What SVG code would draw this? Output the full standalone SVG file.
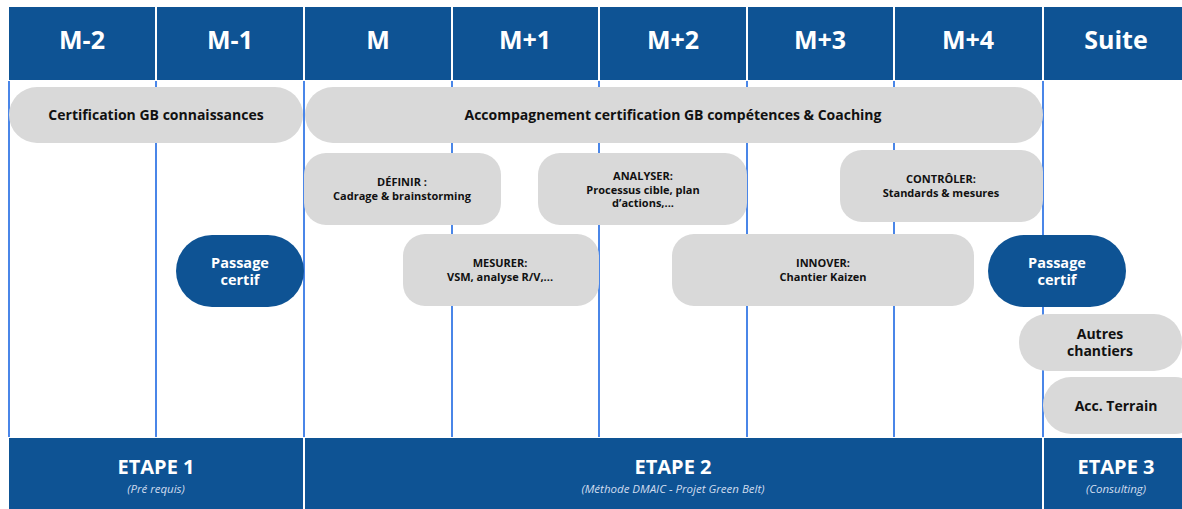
<svg xmlns="http://www.w3.org/2000/svg" width="1182" height="509" viewBox="0 0 1182 509">
<style>
.hdr{fill:#0e5394}
.hdrt{font-family:"Open Sans","Liberation Sans",sans-serif;font-weight:700;font-size:25px;fill:#fff;text-anchor:middle}
.vl{stroke:#4a86e8;stroke-width:2}
.pill{fill:#d9d9d9}
.bpill{fill:#0e5394}
.pt{font-family:"Open Sans","Liberation Sans",sans-serif;font-weight:700;font-size:14px;fill:#111;text-anchor:middle}
.st{font-family:"Open Sans","Liberation Sans",sans-serif;font-weight:700;font-size:11px;fill:#111;text-anchor:middle}
.wt{font-family:"Open Sans","Liberation Sans",sans-serif;font-weight:700;font-size:14.5px;fill:#fff;text-anchor:middle}
.et{font-family:"Open Sans","Liberation Sans",sans-serif;font-weight:700;font-size:20px;fill:#fff;text-anchor:middle}
.es{font-family:"Open Sans","Liberation Sans",sans-serif;font-style:italic;font-size:11.5px;fill:#d0dcee;text-anchor:middle}
</style>
<rect width="1182" height="509" fill="#fff"/>
<g id="header">
<rect class="hdr" x="9" y="7" width="146" height="73"/>
<rect class="hdr" x="157" y="7" width="146" height="73"/>
<rect class="hdr" x="305" y="7" width="146" height="73"/>
<rect class="hdr" x="453" y="7" width="145" height="73"/>
<rect class="hdr" x="600" y="7" width="146" height="73"/>
<rect class="hdr" x="748" y="7" width="145" height="73"/>
<rect class="hdr" x="895" y="7" width="147" height="73"/>
<rect class="hdr" x="1044" y="7" width="138" height="73"/>
<text class="hdrt" x="82" y="49">M-2</text>
<text class="hdrt" x="230" y="49">M-1</text>
<text class="hdrt" x="378" y="49">M</text>
<text class="hdrt" x="525" y="49">M+1</text>
<text class="hdrt" x="673" y="49">M+2</text>
<text class="hdrt" x="820" y="49">M+3</text>
<text class="hdrt" x="968" y="49">M+4</text>
<text class="hdrt" x="1116" y="49">Suite</text>
</g>
<g id="connectors">
<line class="vl" x1="9" y1="81" x2="9" y2="437"/>
<line class="vl" x1="156" y1="81" x2="156" y2="437"/>
<line class="vl" x1="304" y1="81" x2="304" y2="437"/>
<line class="vl" x1="452" y1="81" x2="452" y2="437"/>
<line class="vl" x1="599" y1="81" x2="599" y2="437"/>
<line class="vl" x1="747" y1="81" x2="747" y2="437"/>
<line class="vl" x1="894" y1="81" x2="894" y2="437"/>
<line class="vl" x1="1043" y1="81" x2="1043" y2="437"/>
</g>
<g id="certif-connaissances">
<rect class="pill" x="9" y="87" width="294" height="56" rx="28"/>
<text class="pt" x="156" y="120">Certification GB connaissances</text>
</g>
<g id="accompagnement">
<rect class="pill" x="305" y="87" width="738" height="56" rx="28"/>
<text class="pt" x="673" y="120">Accompagnement certification GB compétences &amp; Coaching</text>
</g>
<g id="definir">
<rect class="pill" x="304" y="153" width="197" height="72" rx="22"/>
<text class="st" x="402" y="186">DÉFINIR :</text>
<text class="st" x="402" y="200">Cadrage &amp; brainstorming</text>
</g>
<g id="analyser">
<rect class="pill" x="538" y="153" width="209" height="72" rx="22"/>
<text class="st" x="643" y="180">ANALYSER:</text>
<text class="st" x="643" y="193.5">Processus cible, plan</text>
<text class="st" x="643" y="207">d’actions,...</text>
</g>
<g id="controler">
<rect class="pill" x="840" y="150" width="203" height="72" rx="22"/>
<text class="st" x="941" y="183">CONTRÔLER:</text>
<text class="st" x="941" y="197">Standards &amp; mesures</text>
</g>
<g id="mesurer">
<rect class="pill" x="403" y="234" width="196" height="72" rx="22"/>
<text class="st" x="500" y="267">MESURER:</text>
<text class="st" x="500" y="281">VSM, analyse R/V,...</text>
</g>
<g id="innover">
<rect class="pill" x="672" y="234" width="302" height="72" rx="22"/>
<text class="st" x="823" y="267">INNOVER:</text>
<text class="st" x="823" y="281">Chantier Kaizen</text>
</g>
<g id="passage1">
<rect class="bpill" x="176" y="235" width="128" height="72" rx="36"/>
<text class="wt" x="240" y="268">Passage</text>
<text class="wt" x="240" y="285">certif</text>
</g>
<g id="passage2">
<rect class="bpill" x="988" y="235" width="138" height="72" rx="36"/>
<text class="wt" x="1057" y="268">Passage</text>
<text class="wt" x="1057" y="285">certif</text>
</g>
<g id="autres">
<rect class="pill" x="1019" y="314" width="163" height="57" rx="28"/>
<text class="pt" x="1100" y="339">Autres</text>
<text class="pt" x="1100" y="356">chantiers</text>
</g>
<g id="acc-terrain">
<rect class="pill" x="1043" y="377" width="160" height="57" rx="28"/>
<text class="pt" x="1116" y="411">Acc. Terrain</text>
</g>
<g id="etapes">
<rect class="hdr" x="9" y="438" width="294" height="71"/>
<rect class="hdr" x="305" y="438" width="737" height="71"/>
<rect class="hdr" x="1044" y="438" width="138" height="71"/>
<text class="et" x="156" y="474">ETAPE 1</text>
<text class="es" x="156" y="493">(Pré requis)</text>
<text class="et" x="673" y="474">ETAPE 2</text>
<text class="es" x="673" y="493">(Méthode DMAIC - Projet Green Belt)</text>
<text class="et" x="1116" y="474">ETAPE 3</text>
<text class="es" x="1116" y="493">(Consulting)</text>
</g>
</svg>
